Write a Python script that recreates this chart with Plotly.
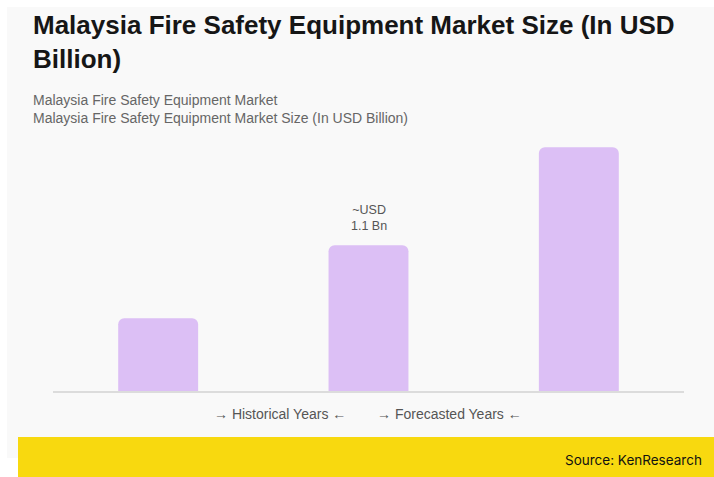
import plotly.graph_objects as go

# Market size (USD billion) per period; tick labels are hidden on the chart
periods = ["Historical", "Base Year", "Forecast"]
market_size = [0.55, 1.1, 1.84]
value_label = "~USD<br>1.1 Bn"
labelled_index = 1

W, H = 714, 477


def px_x(p):
    return p / W


def px_y(p):
    return 1 - p / H


fig = go.Figure()
fig.add_trace(go.Bar(
    x=periods,
    y=market_size,
    marker=dict(color="#dcbff5", cornerradius=6, line=dict(width=0)),
    width=0.38,
    hoverinfo="skip",
))

shapes = [
    # light card behind the chart
    dict(type="rect", xref="paper", yref="paper",
         x0=px_x(7), x1=px_x(714), y0=px_y(458), y1=px_y(7),
         fillcolor="#f9f9f9", line=dict(width=0), layer="below"),
    # source band
    dict(type="rect", xref="paper", yref="paper",
         x0=px_x(18), x1=px_x(714), y0=px_y(477), y1=px_y(437),
         fillcolor="#f8d90f", line=dict(width=0), layer="above"),
]

annotations = [
    dict(text="<b>Malaysia Fire Safety Equipment Market Size (In USD<br>Billion)</b>",
         xref="paper", yref="paper", x=px_x(31), y=px_y(8),
         xanchor="left", yanchor="top", align="left", showarrow=False,
         font=dict(family="Liberation Sans, Arial", size=26, color="#161616")),
    dict(text="Malaysia Fire Safety Equipment Market<br>Malaysia Fire Safety Equipment Market Size (In USD Billion)",
         xref="paper", yref="paper", x=px_x(31), y=px_y(90),
         xanchor="left", yanchor="top", align="left", showarrow=False,
         font=dict(family="Liberation Sans, Arial", size=14, color="#666666")),
    dict(text=value_label, xref="x", yref="y",
         x=periods[labelled_index], y=market_size[labelled_index],
         xanchor="center", yanchor="bottom", yshift=10, showarrow=False,
         font=dict(family="Liberation Sans, Arial", size=12.5, color="#555555")),
    dict(text="\u2192 Historical Years \u2190", xref="paper", yref="paper",
         x=px_x(280), y=px_y(414), xanchor="center", yanchor="middle",
         showarrow=False,
         font=dict(family="Liberation Sans, Arial", size=14, color="#555555")),
    dict(text="\u2192 Forecasted Years \u2190", xref="paper", yref="paper",
         x=px_x(449), y=px_y(414), xanchor="center", yanchor="middle",
         showarrow=False,
         font=dict(family="Liberation Sans, Arial", size=14, color="#555555")),
    dict(text="Source: KenResearch", xref="paper", yref="paper",
         x=px_x(704), y=px_y(460), xanchor="right", yanchor="middle",
         showarrow=False,
         font=dict(family="Inter, Open Sans", size=13.5, color="#111111")),
]

fig.update_layout(
    width=W, height=H,
    margin=dict(l=0, r=0, t=0, b=0),
    paper_bgcolor="#ffffff",
    plot_bgcolor="rgba(0,0,0,0)",
    showlegend=False,
    shapes=shapes,
    annotations=annotations,
    xaxis=dict(domain=[px_x(53), px_x(684)], showticklabels=False, ticks="",
               showgrid=False, zeroline=False, showline=True,
               linecolor="#dcdcdc", linewidth=1.5, fixedrange=True),
    yaxis=dict(domain=[1 - 391 / H, 1 - 126 / H], range=[0, 2.0],
               showticklabels=False, ticks="", showgrid=False,
               zeroline=False, showline=False, fixedrange=True),
)

fig.write_html("out.html")
